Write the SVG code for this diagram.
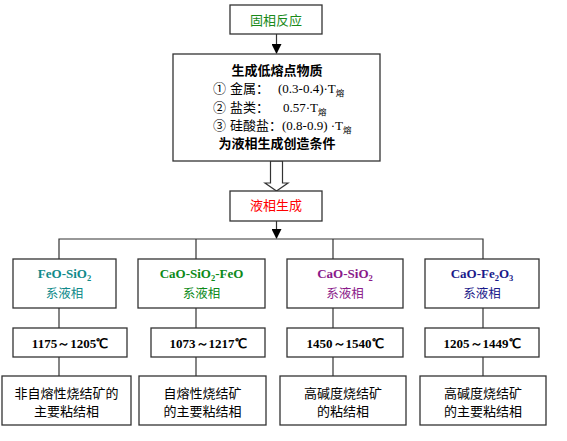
<svg xmlns="http://www.w3.org/2000/svg" width="567" height="441" viewBox="0 0 567 441">
<style>
.box{fill:#fff;stroke:#333;stroke-width:1.3}
.ln{stroke:#333;stroke-width:1.2;fill:none}
.cj{font-family:"Noto Sans CJK SC","Noto Sans",sans-serif}
.lt{font-family:"Liberation Serif","Times New Roman",serif;font-weight:bold}
.rm{font-family:"Liberation Serif","Times New Roman",serif}
.c{text-anchor:middle}
</style>
<defs>
<marker id="ah" markerWidth="10" markerHeight="10" refX="9" refY="5" orient="auto" markerUnits="userSpaceOnUse">
<path d="M0,0 L10,5 L0,10 z" fill="#000"/>
</marker>
</defs>
<rect width="567" height="441" fill="#fff"/>
<g id="connectors">
<line class="ln" x1="276.5" y1="34" x2="276.5" y2="53" stroke="#000" marker-end="url(#ah)"/>
<polygon points="270.5,161 270.5,183 265,183 276.5,191 288,183 282.5,183 282.5,161" fill="#fff" stroke="#333" stroke-width="1.2"/>
<line class="ln" x1="276.5" y1="221" x2="276.5" y2="238" marker-end="url(#ah)"/>
<polyline class="ln" points="59,259 59,239 483,239 483,259"/>
<line class="ln" x1="196" y1="239" x2="196" y2="259"/>
<line class="ln" x1="333" y1="239" x2="333" y2="259"/>
<line class="ln" x1="59" y1="308" x2="59" y2="328"/>
<line class="ln" x1="196" y1="308" x2="196" y2="328"/>
<line class="ln" x1="333" y1="308" x2="333" y2="328"/>
<line class="ln" x1="483" y1="308" x2="483" y2="328"/>
<line class="ln" x1="59" y1="357" x2="59" y2="376"/>
<line class="ln" x1="196" y1="357" x2="196" y2="376"/>
<line class="ln" x1="333" y1="357" x2="333" y2="376"/>
<line class="ln" x1="483" y1="357" x2="483" y2="376"/>
</g>
<g id="solid">
<rect class="box" x="230" y="5" width="92" height="29"/>
<text class="cj c" x="276" y="25" font-size="13" fill="#1a8a1a">固相反应</text>
</g>
<g id="lowmelt">
<rect class="box" x="173" y="54" width="207" height="107"/>
<text class="cj c" x="277" y="75" font-size="13" font-weight="bold" fill="#000">生成低熔点物质</text>
<text x="213" y="93" font-size="13" fill="#000"><tspan class="cj">①</tspan><tspan class="cj" x="230">金属：</tspan><tspan class="rm" x="278">(0.3-0.4)·T</tspan><tspan class="cj" font-size="8.5" dy="3">熔</tspan></text>
<text x="213" y="112" font-size="13" fill="#000"><tspan class="cj">②</tspan><tspan class="cj" x="230">盐类：</tspan><tspan class="rm" x="283">0.57·T</tspan><tspan class="cj" font-size="8.5" dy="3">熔</tspan></text>
<text x="213" y="130" font-size="13" fill="#000"><tspan class="cj">③</tspan><tspan class="cj" x="230">硅酸盐：</tspan><tspan class="rm" x="282">(0.8-0.9)  ·T</tspan><tspan class="cj" font-size="8.5" dy="3">熔</tspan></text>
<text class="cj c" x="277" y="148" font-size="13" font-weight="bold" fill="#000">为液相生成创造条件</text>
</g>
<g id="liquid">
<rect class="box" x="230" y="191" width="92" height="30"/>
<text class="cj c" x="276" y="210" font-size="13" fill="#ff0000">液相生成</text>
</g>
<g id="n1">
<rect class="box" x="13" y="259" width="103" height="49"/>
<text class="lt c" x="64.5" y="278" font-size="13" fill="#108a8a">FeO-SiO<tspan font-size="8.5" dy="3">2</tspan></text>
<text class="cj c" x="64.5" y="298" font-size="12.5" fill="#108a8a">系液相</text>
</g>
<g id="n2">
<rect class="box" x="138" y="259" width="127" height="49"/>
<text class="lt c" x="201.5" y="278" font-size="13" fill="#0c8a18">CaO-SiO<tspan font-size="8.5" dy="3">2</tspan><tspan dy="-3">-FeO</tspan></text>
<text class="cj c" x="201.5" y="298" font-size="12.5" fill="#0c8a18">系液相</text>
</g>
<g id="n3">
<rect class="box" x="287" y="259" width="116" height="49"/>
<text class="lt c" x="345" y="278" font-size="13" fill="#8a1a8a">CaO-SiO<tspan font-size="8.5" dy="3">2</tspan></text>
<text class="cj c" x="345" y="298" font-size="12.5" fill="#8a1a8a">系液相</text>
</g>
<g id="n4">
<rect class="box" x="425" y="259" width="114" height="49"/>
<text class="lt c" x="482" y="278" font-size="13" fill="#1a1a8a">CaO-Fe<tspan font-size="8.5" dy="3">2</tspan><tspan dy="-3">O</tspan><tspan font-size="8.5" dy="3">3</tspan></text>
<text class="cj c" x="482" y="298" font-size="12.5" fill="#1a1a8a">系液相</text>
</g>
<g id="t1">
<rect class="box" x="13" y="328" width="114" height="29"/>
<text class="lt c" x="70" y="347.5" font-size="13" fill="#000">1175～1205℃</text>
</g>
<g id="t2">
<rect class="box" x="151" y="328" width="114" height="29"/>
<text class="lt c" x="208" y="347.5" font-size="13" fill="#000">1073～1217℃</text>
</g>
<g id="t3">
<rect class="box" x="287" y="328" width="116" height="29"/>
<text class="lt c" x="345" y="347.5" font-size="13" fill="#000">1450～1540℃</text>
</g>
<g id="t4">
<rect class="box" x="425" y="328" width="114" height="29"/>
<text class="lt c" x="482" y="347.5" font-size="13" fill="#000">1205～1449℃</text>
</g>
<g id="b1">
<rect class="box" x="2" y="376" width="129" height="49"/>
<text class="cj c" x="66.5" y="397.5" font-size="13" fill="#000">非自熔性烧结矿的</text>
<text class="cj c" x="66.5" y="415.5" font-size="13" fill="#000">主要粘结相</text>
</g>
<g id="b2">
<rect class="box" x="139" y="376" width="127" height="49"/>
<text class="cj c" x="202.5" y="397.5" font-size="13" fill="#000">自熔性烧结矿</text>
<text class="cj c" x="202.5" y="415.5" font-size="13" fill="#000">的主要粘结相</text>
</g>
<g id="b3">
<rect class="box" x="280" y="376" width="126" height="49"/>
<text class="cj c" x="343" y="397.5" font-size="13" fill="#000">高碱度烧结矿</text>
<text class="cj c" x="343" y="415.5" font-size="13" fill="#000">的粘结相</text>
</g>
<g id="b4">
<rect class="box" x="420" y="376" width="126" height="49"/>
<text class="cj c" x="483" y="397.5" font-size="13" fill="#000">高碱度烧结矿</text>
<text class="cj c" x="483" y="415.5" font-size="13" fill="#000">的主要粘结相</text>
</g>
</svg>
